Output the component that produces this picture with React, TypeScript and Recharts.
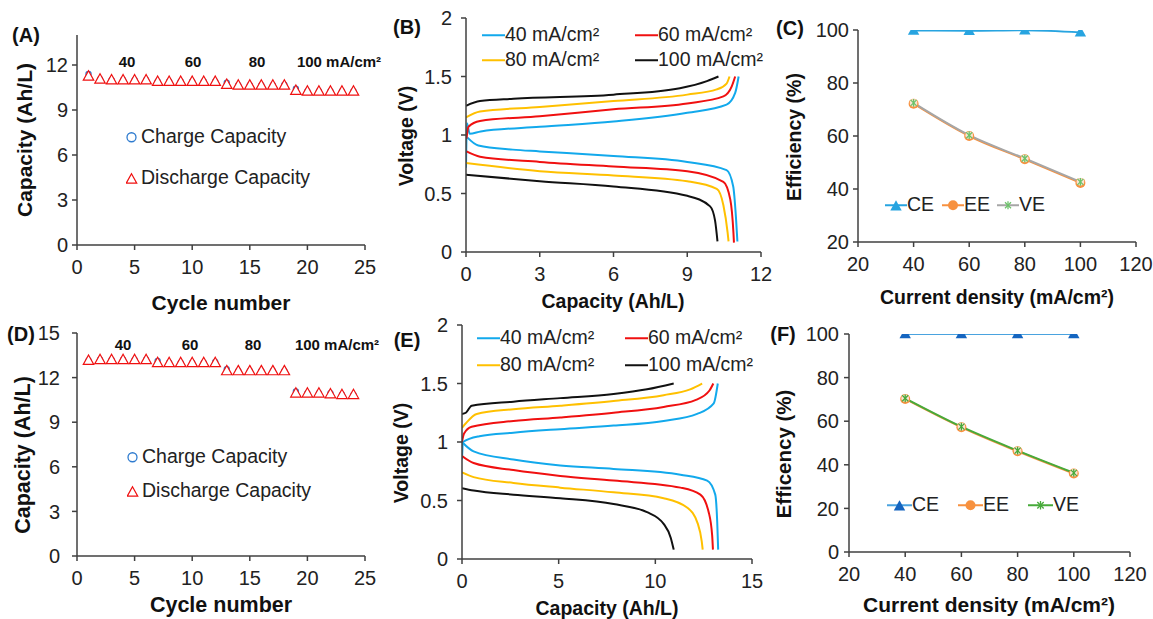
import type { ReactNode } from "react"
import { LineChart, Line, ScatterChart, Scatter, XAxis, YAxis } from "recharts"

const FONT = '"Liberation Sans", Arial, Helvetica, sans-serif'
const INK = "#222"

// (A) and (D): capacity per cycle
const cycles = [1, 2, 3, 4, 5, 6, 7, 8, 9, 10, 11, 12, 13, 14, 15, 16, 17, 18, 19, 20, 21, 22, 23, 24]
const chargeA = [11.4, 11.05, 11.0, 11.0, 11.0, 11.0, 10.9, 10.9, 10.9, 10.9, 10.9, 10.9, 10.82, 10.65, 10.65, 10.65, 10.65, 10.68, 10.42, 10.25, 10.25, 10.25, 10.25, 10.25]
const dischargeA = [11.25, 11.05, 11.0, 11.0, 11.0, 11.0, 10.9, 10.9, 10.9, 10.9, 10.9, 10.9, 10.7, 10.65, 10.65, 10.65, 10.65, 10.65, 10.3, 10.25, 10.25, 10.25, 10.25, 10.25]
const chargeD = [13.15, 13.2, 13.2, 13.2, 13.2, 13.2, 13.12, 13.0, 13.0, 13.0, 13.0, 13.05, 12.57, 12.45, 12.45, 12.45, 12.45, 12.45, 11.07, 10.95, 10.95, 10.95, 10.85, 10.85]
const dischargeD = [13.15, 13.2, 13.2, 13.2, 13.2, 13.2, 13.0, 13.0, 13.0, 13.0, 13.0, 13.0, 12.45, 12.45, 12.45, 12.45, 12.45, 12.45, 10.95, 10.95, 10.95, 10.9, 10.85, 10.85]
const rateLabels = ["40", "60", "80", "100 mA/cm²"]

// (B) voltage curves, [capacity Ah/L, voltage V]
const b40Charge = [[0, 0.72], [0.04, 1.1], [0.15, 1.01], [0.6, 1.03], [3, 1.07], [6, 1.115], [9, 1.19], [10.6, 1.26], [10.95, 1.36], [11.09, 1.5]]
const b40Discharge = [[0.05, 0.98], [0.5, 0.91], [1.9, 0.875], [3, 0.86], [6, 0.82], [9, 0.77], [10.6, 0.7], [10.87, 0.56], [10.98, 0.3], [11.04, 0.09]]
const b60Charge = [[0.02, 0.97], [0.1, 1.07], [0.57, 1.12], [3, 1.16], [6, 1.22], [9, 1.27], [10.47, 1.33], [10.81, 1.415], [10.95, 1.5]]
const b60Discharge = [[0.02, 0.86], [0.57, 0.815], [3, 0.77], [6, 0.73], [9, 0.69], [10.47, 0.6], [10.75, 0.45], [10.88, 0.16], [10.9, 0.08]]
const b80Charge = [[0, 1.15], [0.57, 1.2], [3, 1.24], [6, 1.29], [9, 1.345], [10.2, 1.39], [10.6, 1.44], [10.72, 1.5]]
const b80Discharge = [[0, 0.76], [3, 0.69], [6, 0.654], [9, 0.605], [10.2, 0.54], [10.47, 0.4], [10.64, 0.17], [10.68, 0.09]]
const b100Charge = [[0, 1.25], [0.57, 1.29], [1.93, 1.31], [6, 1.345], [8.7, 1.4], [9.8, 1.46], [10.27, 1.5]]
const b100Discharge = [[0, 0.66], [3, 0.605], [6, 0.56], [9, 0.48], [9.93, 0.39], [10.13, 0.27], [10.23, 0.09]]

// (E) voltage curves
const e40Charge = [[0, 0.85], [0.05, 1.0], [0.9, 1.05], [2.66, 1.08], [5.08, 1.11], [7.84, 1.14], [10.43, 1.18], [12.16, 1.24], [13.02, 1.33], [13.23, 1.5]]
const e40Discharge = [[0, 1.0], [0.6, 0.92], [2.66, 0.85], [5.08, 0.8], [7.84, 0.77], [11.3, 0.72], [12.68, 0.67], [13.1, 0.55], [13.2, 0.32], [13.25, 0.08]]
const e60Charge = [[0, 1.0], [0.1, 1.07], [0.5, 1.13], [2.66, 1.18], [5.08, 1.21], [7.84, 1.25], [10.43, 1.3], [12.1, 1.36], [12.8, 1.44], [13.0, 1.5]]
const e60Discharge = [[0, 0.88], [0.6, 0.82], [2.66, 0.76], [5.08, 0.71], [7.84, 0.67], [11.3, 0.61], [12.33, 0.55], [12.76, 0.4], [12.94, 0.2], [12.98, 0.08]]
const e80Charge = [[0, 1.12], [0.2, 1.16], [0.76, 1.24], [2.66, 1.28], [5.08, 1.31], [7.84, 1.35], [10.43, 1.4], [11.8, 1.45], [12.42, 1.5]]
const e80Discharge = [[0, 0.74], [0.6, 0.7], [2.66, 0.65], [5.08, 0.61], [7.84, 0.57], [10.43, 0.52], [11.64, 0.44], [12.2, 0.3], [12.4, 0.15], [12.45, 0.08]]
const e100Charge = [[0, 1.24], [0.2, 1.25], [0.5, 1.31], [2.66, 1.345], [5.08, 1.375], [7.84, 1.41], [9.57, 1.45], [10.95, 1.5]]
const e100Discharge = [[0, 0.605], [0.6, 0.585], [2.66, 0.55], [5.08, 0.52], [7.84, 0.47], [9.57, 0.4], [10.43, 0.3], [10.8, 0.18], [10.95, 0.08]]

const rateNames = ["40 mA/cm²", "60 mA/cm²", "80 mA/cm²", "100 mA/cm²"]
const rateColors = ["#12A9EC", "#F01010", "#FFC000", "#111111"]

// (C) and (F) efficiencies
const currentDensity = [40, 60, 80, 100]
const ceC = [99.8, 99.7, 99.9, 99.1]
const eeC = [72.2, 60.0, 51.2, 42.3]
const veC = [72.5, 60.3, 51.5, 42.7]
const ceF = [100, 100, 100, 100]
const eeF = [70.2, 57.2, 46.2, 36.0]
const veF = [70.5, 57.5, 46.5, 36.3]

const toPts = (arr: number[][]) => arr.map(([c, v]) => ({ c, v }))
const curvesB = [[b40Charge, b40Discharge], [b60Charge, b60Discharge], [b80Charge, b80Discharge], [b100Charge, b100Discharge]]
const curvesE = [[e40Charge, e40Discharge], [e60Charge, e60Discharge], [e80Charge, e80Discharge], [e100Charge, e100Discharge]]

// layout: plot rectangles [x0, y0, x1, y1] in page px
const YW = 70, MT = 15, MR = 30, XH = 45
function boxOf(r: number[]) {
  return { left: r[0] - YW, top: r[1] - MT, width: r[2] - r[0] + YW + MR, height: r[3] - r[1] + MT + XH }
}
const margin = { top: MT, right: MR, bottom: 0, left: 0 }
const axisLine = { stroke: "#404040", strokeWidth: 1.5 }
const tickFont = { fontSize: 20, fill: INK, fontFamily: FONT }
const xCommon = { type: "number" as const, height: XH, tickSize: 5, tickMargin: 10, axisLine, tickLine: axisLine, tick: tickFont, interval: 0 as const, allowDataOverflow: true }
const yCommon = { type: "number" as const, width: YW, tickSize: 5, axisLine, tickLine: axisLine, tick: tickFont, interval: 0 as const, allowDataOverflow: true }

function Pos({ r, children }: { r: number[]; children: ReactNode }) {
  const b = boxOf(r)
  return <div style={{ position: "absolute", left: b.left, top: b.top, width: b.width, height: b.height }}>{children}</div>
}

function Txt({ x, y, size = 19.5, bold = false, rot = false, left = false, children }: any) {
  return (
    <div style={{
      position: "absolute", left: x, top: y, whiteSpace: "nowrap", lineHeight: 1,
      transform: `translate(${left ? "0" : "-50%"},-50%)${rot ? " rotate(-90deg)" : ""}`,
      fontFamily: FONT, fontSize: size, fontWeight: bold ? 700 : 400, color: bold ? "#111" : INK,
    }}>{children}</div>
  )
}

const triPath = (cx: number, cy: number, s: number) =>
  `M${cx},${cy - s} L${cx + s * 0.95},${cy + s * 0.7} L${cx - s * 0.95},${cy + s * 0.7} Z`

function Star({ cx, cy, r, color }: any) {
  return (
    <g stroke={color} strokeWidth={1.3}>
      <line x1={cx - r} y1={cy - r} x2={cx + r} y2={cy + r} />
      <line x1={cx - r} y1={cy + r} x2={cx + r} y2={cy - r} />
      <line x1={cx} y1={cy - r * 1.3} x2={cx} y2={cy + r * 1.3} />
    </g>
  )
}

function CapacityPanel({ r, charge, discharge, yMax, yTicks, yMargin }: any) {
  const b = boxOf(r)
  const chargePts = cycles.map((x, i) => ({ x, y: charge[i] }))
  const dischargePts = cycles.map((x, i) => ({ x, y: discharge[i] }))
  return (
    <Pos r={r}>
      <ScatterChart width={b.width} height={b.height} margin={margin}>
        <XAxis {...xCommon} dataKey="x" domain={[0, 25]} ticks={[0, 5, 10, 15, 20, 25]} />
        <YAxis {...yCommon} dataKey="y" domain={[0, yMax]} ticks={yTicks} tickMargin={yMargin} />
        <Scatter data={chargePts} isAnimationActive={false}
          shape={(p: any) => <circle cx={p.cx} cy={p.cy} r={2.6} fill="none" stroke="#2E7BCF" strokeWidth={1.2} />} />
        <Scatter data={dischargePts} isAnimationActive={false}
          shape={(p: any) => <path d={triPath(p.cx, p.cy, 5.5)} fill="#fff" stroke="#F01010" strokeWidth={1.2} />} />
      </ScatterChart>
    </Pos>
  )
}

function VoltagePanel({ r, curves, xMax, xTicks }: any) {
  const b = boxOf(r)
  return (
    <Pos r={r}>
      <LineChart width={b.width} height={b.height} margin={margin}>
        <XAxis {...xCommon} dataKey="c" domain={[0, xMax]} ticks={xTicks} />
        <YAxis {...yCommon} domain={[0, 2]} ticks={[0, 0.5, 1, 1.5, 2]} tickMargin={9} />
        {curves.map((pair: number[][][], i: number) =>
          pair.map((arr, j) => (
            <Line key={`${i}-${j}`} data={toPts(arr)} dataKey="v" type="monotone" stroke={rateColors[i]}
              strokeWidth={2} dot={false} isAnimationActive={false} />
          ))
        )}
      </LineChart>
    </Pos>
  )
}

function EfficiencyPanel({ r, ce, ee, ve, yMin, yTicks, yMargin, ceLine, ceMark, veLine, veMark }: any) {
  const b = boxOf(r)
  const rows = currentDensity.map((cd, i) => ({ cd, ce: ce[i], ee: ee[i], ve: ve[i] }))
  return (
    <Pos r={r}>
      <LineChart width={b.width} height={b.height} margin={margin} data={rows}>
        <XAxis {...xCommon} dataKey="cd" domain={[20, 120]} ticks={[20, 40, 60, 80, 100, 120]} />
        <YAxis {...yCommon} domain={[yMin, 100]} ticks={yTicks} tickMargin={yMargin} />
        <Line dataKey="ce" type="monotone" stroke={ceLine} strokeWidth={1.8} isAnimationActive={false}
          dot={(p: any) => <path key={`ce${p.index}`} d={triPath(p.cx, p.cy, 6)} fill={ceMark} />} />
        <Line dataKey="ee" type="monotone" stroke="#F7913F" strokeWidth={2} isAnimationActive={false}
          dot={(p: any) => <circle key={`ee${p.index}`} cx={p.cx} cy={p.cy} r={5} fill="#F7913F" />} />
        <Line dataKey="ve" type="monotone" stroke={veLine} strokeWidth={2} isAnimationActive={false}
          dot={(p: any) => (
            <g key={`ve${p.index}`}>
              <circle cx={p.cx} cy={p.cy} r={3.8} fill="#FBE3D2" />
              <Star cx={p.cx} cy={p.cy} r={3} color={veMark} />
            </g>
          )} />
      </LineChart>
    </Pos>
  )
}

function Icon({ w, color, mark }: any) {
  return (
    <svg width={w} height={14} style={{ display: "block", flex: "none" }}>
      <line x1={0} y1={7} x2={w} y2={7} stroke={color} strokeWidth={2} />
      {mark === "tri" && <path d={triPath(w / 2, 8, 6)} fill={color} />}
      {mark === "dot" && <circle cx={w / 2} cy={7} r={5} fill={color} />}
      {mark === "star" && <Star cx={w / 2} cy={7} r={3.2} color={color} />}
    </svg>
  )
}

function Leg({ x, y, children }: any) {
  return (
    <div style={{ position: "absolute", left: x, top: y, transform: "translateY(-50%)", display: "flex", alignItems: "center",
      fontFamily: FONT, fontSize: 19.5, color: INK, whiteSpace: "nowrap", lineHeight: 1 }}>{children}</div>
  )
}

const rA = [77, 35, 365, 245]
const rB = [466, 18, 761, 252]
const rC = [858, 30, 1136, 242]
const rD = [77, 333, 365, 556]
const rE = [462, 325, 752, 559]
const rF = [849, 334, 1130, 552]

export default function App() {
  return (
    <div style={{ position: "absolute", left: 0, top: 0, width: 1153, height: 619, background: "#fff", overflow: "hidden" }}>
      <CapacityPanel r={rA} charge={chargeA} discharge={dischargeA} yMax={14} yTicks={[0, 3, 6, 9, 12]} yMargin={4} />
      <CapacityPanel r={rD} charge={chargeD} discharge={dischargeD} yMax={15} yTicks={[0, 3, 6, 9, 12, 15]} yMargin={12} />
      <VoltagePanel r={rB} curves={curvesB} xMax={12} xTicks={[0, 3, 6, 9, 12]} />
      <VoltagePanel r={rE} curves={curvesE} xMax={15} xTicks={[0, 5, 10, 15]} />
      <EfficiencyPanel r={rC} ce={ceC} ee={eeC} ve={veC} yMin={20} yTicks={[20, 40, 60, 80, 100]} yMargin={4}
        ceLine="#27A4E0" ceMark="#27A4E0" veLine="#A6A6A6" veMark="#6CC36A" />
      <EfficiencyPanel r={rF} ce={ceF} ee={eeF} ve={veF} yMin={0} yTicks={[0, 20, 40, 60, 80, 100]} yMargin={5}
        ceLine="#4AA3DF" ceMark="#1565C0" veLine="#47AA3A" veMark="#47AA3A" />

      {/* panel letters */}
      <Txt x={26} y={35} size={20} bold>(A)</Txt>
      <Txt x={407} y={27} size={20} bold>(B)</Txt>
      <Txt x={790} y={28} size={20} bold>(C)</Txt>
      <Txt x={21} y={334} size={20} bold>(D)</Txt>
      <Txt x={407} y={340} size={20} bold>(E)</Txt>
      <Txt x={783} y={334} size={20} bold>(F)</Txt>

      {/* axis titles */}
      <Txt x={24} y={140} size={21} bold rot>Capacity (Ah/L)</Txt>
      <Txt x={221} y={302} size={21} bold>Cycle number</Txt>
      <Txt x={407} y={136} size={19.5} bold rot>Voltage (V)</Txt>
      <Txt x={613} y={302} size={19.5} bold>Capacity (Ah/L)</Txt>
      <Txt x={795} y={137} size={19.5} bold rot>Efficiency (%)</Txt>
      <Txt x={997} y={298} size={19.5} bold>Current density (mA/cm²)</Txt>
      <Txt x={24} y={455} size={21.5} bold rot>Capacity (Ah/L)</Txt>
      <Txt x={221} y={606} size={21.5} bold>Cycle number</Txt>
      <Txt x={402} y={453} size={19.5} bold rot>Voltage (V)</Txt>
      <Txt x={607} y={609} size={19.5} bold>Capacity (Ah/L)</Txt>
      <Txt x={784} y={454} size={20.5} bold rot>Efficency (%)</Txt>
      <Txt x={989} y={604} size={21} bold>Current density (mA/cm²)</Txt>

      {/* current density annotations */}
      <Txt x={127} y={61} size={15} bold>{rateLabels[0]}</Txt>
      <Txt x={193} y={61} size={15} bold>{rateLabels[1]}</Txt>
      <Txt x={257} y={61} size={15} bold>{rateLabels[2]}</Txt>
      <Txt x={339} y={61} size={15} bold>{rateLabels[3]}</Txt>
      <Txt x={123} y={344} size={15} bold>{rateLabels[0]}</Txt>
      <Txt x={190} y={344} size={15} bold>{rateLabels[1]}</Txt>
      <Txt x={253} y={344} size={15} bold>{rateLabels[2]}</Txt>
      <Txt x={337} y={344} size={15} bold>{rateLabels[3]}</Txt>

      {/* legends (A), (D) */}
      <Leg x={126} y={137}><svg width={12} height={14} style={{ display: "block" }}><circle cx={5.5} cy={7} r={4.5} fill="none" stroke="#2E7BCF" strokeWidth={1.3} /></svg><span style={{ marginLeft: 3 }}>Charge Capacity</span></Leg>
      <Leg x={126} y={178}><svg width={12} height={14} style={{ display: "block" }}><path d={triPath(5.5, 8, 5.5)} fill="none" stroke="#F01010" strokeWidth={1.2} /></svg><span style={{ marginLeft: 3 }}>Discharge Capacity</span></Leg>
      <Leg x={127} y={457}><svg width={12} height={14} style={{ display: "block" }}><circle cx={5.5} cy={7} r={4.5} fill="none" stroke="#2E7BCF" strokeWidth={1.3} /></svg><span style={{ marginLeft: 3 }}>Charge Capacity</span></Leg>
      <Leg x={127} y={491}><svg width={12} height={14} style={{ display: "block" }}><path d={triPath(5.5, 8, 5.5)} fill="none" stroke="#F01010" strokeWidth={1.2} /></svg><span style={{ marginLeft: 3 }}>Discharge Capacity</span></Leg>

      {/* legends (B), (E) */}
      {rateNames.map((name, i) => (
        <Leg key={`lb${i}`} x={i % 2 === 0 ? 482 : 635} y={i < 2 ? 35 : 60}><Icon w={23} color={rateColors[i]} /><span>{name}</span></Leg>
      ))}
      {rateNames.map((name, i) => (
        <Leg key={`le${i}`} x={i % 2 === 0 ? 477 : 625} y={i < 2 ? 338 : 365}><Icon w={23} color={rateColors[i]} /><span>{name}</span></Leg>
      ))}

      {/* legends (C), (F) */}
      <Leg x={885} y={205}><Icon w={22} color="#27A4E0" mark="tri" /><span>CE</span></Leg>
      <Leg x={942} y={205}><Icon w={22} color="#F7913F" mark="dot" /><span>EE</span></Leg>
      <Leg x={997} y={205}>
        <svg width={22} height={14} style={{ display: "block" }}><line x1={0} y1={7} x2={22} y2={7} stroke="#A6A6A6" strokeWidth={2} /><Star cx={11} cy={7} r={3} color="#6CC36A" /></svg>
        <span>VE</span>
      </Leg>
      <Leg x={887} y={505}>
        <svg width={25} height={14} style={{ display: "block" }}><line x1={0} y1={7} x2={25} y2={7} stroke="#4AA3DF" strokeWidth={2} /><path d={triPath(12.5, 8, 6)} fill="#1565C0" /></svg>
        <span>CE</span>
      </Leg>
      <Leg x={958} y={505}><Icon w={25} color="#F7913F" mark="dot" /><span>EE</span></Leg>
      <Leg x={1028} y={505}><Icon w={25} color="#47AA3A" mark="star" /><span>VE</span></Leg>
    </div>
  )
}
